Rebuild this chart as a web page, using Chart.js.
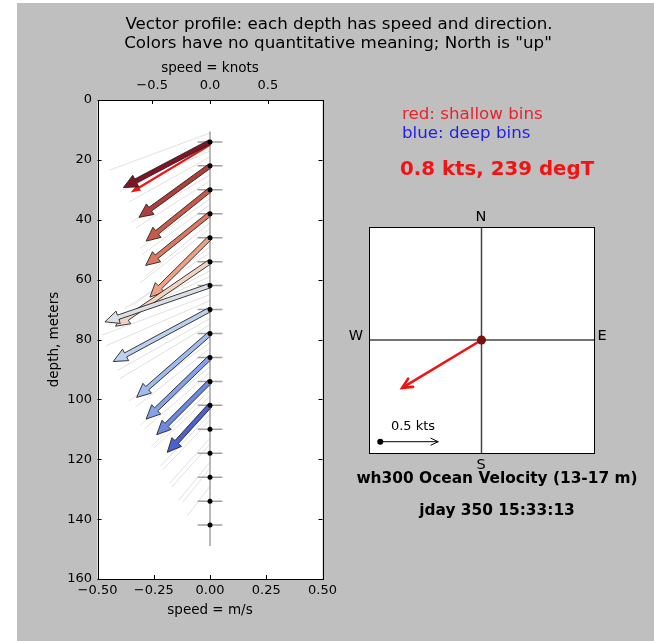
<!DOCTYPE html>
<html>
<head>
<meta charset="utf-8">
<title>wh300 vector profile</title>
<script src="https://cdn.jsdelivr.net/npm/chart.js@4.4.0/dist/chart.umd.min.js"></script>
<style>
    body { margin: 0; background: #fff; font-family: "DejaVu Sans", sans-serif; }
    #page { position: absolute; left: 17px; top: 3px; width: 637px; height: 638px; background: #bfbfbf; }
    canvas { position: absolute; left: 0; top: 0; }
    .txt { position: absolute; white-space: nowrap; line-height: 1; color: #000; }
    .c { transform: translate(-50%, -50%); }
    .l { transform: translate(0, -50%); }
</style>
</head>
<body>
<div id="page"></div>
<canvas id="profile-chart" width="654" height="641"></canvas>
<canvas id="compass-chart" width="654" height="641"></canvas>

<div class="txt c" style="left:339px;top:23px;font-size:16.7px">Vector profile: each depth has speed and direction.</div>
<div class="txt c" style="left:338px;top:42px;font-size:16.7px">Colors have no quantitative meaning; North is "up"</div>

<div class="txt l" style="left:402px;top:113px;font-size:16.7px;color:#e8242a">red: shallow bins</div>
<div class="txt l" style="left:402px;top:132px;font-size:16.7px;color:#1f1fe6">blue: deep bins</div>
<div class="txt l" id="avg-label" style="left:400px;top:169px;font-size:19.8px;font-weight:bold;color:#f01414"></div>

<div class="txt c" style="left:481px;top:216px;font-size:14.5px">N</div>
<div class="txt c" style="left:481px;top:464px;font-size:14.5px">S</div>
<div class="txt c" style="left:356px;top:335px;font-size:14.5px">W</div>
<div class="txt c" style="left:602px;top:335px;font-size:14.5px">E</div>
<div class="txt c" style="left:413px;top:425px;font-size:13px">0.5 kts</div>

<div class="txt c" style="left:497px;top:479px;font-size:15.4px;font-weight:bold">wh300 Ocean Velocity (13-17 m)</div>
<div class="txt c" style="left:497px;top:511px;font-size:15.4px;font-weight:bold">jday 350 15:33:13</div>

<script>
// Bin depths (m) and velocity components (m/s, east / north)
const depths = [14, 22, 30, 38, 46, 54, 62, 70, 78, 86, 94, 102, 110, 118, 126, 134, 142];
const uVel = [-0.385, -0.316, -0.284, -0.286, -0.267, -0.420, -0.467, -0.430, -0.326, -0.284, -0.237, -0.190, null, null, null, null, null];
const vVel = [-0.203, -0.229, -0.228, -0.230, -0.264, -0.287, -0.161, -0.231, -0.284, -0.274, -0.237, -0.209, null, null, null, null, null];
const uErr = [0.055, 0.055, 0.055, 0.055, 0.055, 0.055, 0.055, 0.055, 0.055, 0.055, 0.055, 0.055, 0.055, 0.055, 0.055, 0.055, 0.055];
const arrowColors = ['#7d1526', '#ad3f3c', '#c85a4c', '#dc7862', '#eda185', '#f3d3c0',
                     '#dcdfe8', '#bcd0f0', '#9fbbef', '#84a2e7', '#6d88df', '#4a62cd'];

// Earlier profiles, drawn as faint lines
const histDepthsA = [11, 19, 27, 35, 43, 51, 59, 67, 75, 83, 91, 99, 107, 115, 123];
const histUA = [-0.445, -0.36, -0.33, -0.30, -0.31, -0.38, -0.44, -0.46, -0.40, -0.33, -0.29, -0.25, -0.21, -0.17, -0.12];
const histVA = [-0.165, -0.20, -0.21, -0.22, -0.24, -0.25, -0.20, -0.20, -0.24, -0.26, -0.25, -0.23, -0.22, -0.19, -0.15];
const histDepthsB = [17, 25, 33, 41, 49, 57, 65, 73, 81, 89, 97, 105, 113, 121, 129];
const histUB = [-0.40, -0.35, -0.31, -0.29, -0.34, -0.45, -0.48, -0.41, -0.36, -0.31, -0.26, -0.22, -0.18, -0.14, -0.10];
const histVB = [-0.18, -0.21, -0.22, -0.24, -0.26, -0.24, -0.18, -0.23, -0.26, -0.26, -0.25, -0.23, -0.20, -0.17, -0.13];

// Depth span of the profile stick
const stickDepths = [10.5, 149];

// Layer average (13-17 m)
const avgDepth = 15;
const avgSpeedKts = 0.8;
const avgDirDeg = 239;

// Axis ticks
const depthTicks = [0, 20, 40, 60, 80, 100, 120, 140, 160];
const mpsTicks = [-0.5, -0.25, 0, 0.25, 0.5];
const knotTicks = [-0.5, 0, 0.5];

// Compass scale bar
const scaleBarKts = 0.5;
const scaleBarStart = [-0.45, -0.45];

const KNOT = 0.514444;   // m/s per knot
const font = 'DejaVu Sans';

const avgU = avgSpeedKts * KNOT * Math.sin(avgDirDeg * Math.PI / 180);
const avgV = avgSpeedKts * KNOT * Math.cos(avgDirDeg * Math.PI / 180);
document.getElementById('avg-label').textContent = `${avgSpeedKts.toFixed(1)} kts, ${avgDirDeg} degT`;

function fmt(v, digits) {
    return (v < -1e-9 ? '\u2212' : '') + Math.abs(v).toFixed(digits);
}

function line(ctx, x0, y0, x1, y1) {
    ctx.beginPath();
    ctx.moveTo(x0, y0);
    ctx.lineTo(x1, y1);
    ctx.stroke();
}

// filled arrow with a triangular head, tip at (x1, y1)
function fancyArrow(ctx, x0, y0, x1, y1, o) {
    const dx = x1 - x0, dy = y1 - y0;
    const len = Math.hypot(dx, dy);
    const ux = dx / len, uy = dy / len;
    const px = -uy, py = ux;
    const hl = Math.min(o.headLength, len);
    const bx = x1 - ux * hl, by = y1 - uy * hl;
    const w = o.width / 2, hw = o.headWidth / 2;
    ctx.beginPath();
    ctx.moveTo(x0 + px * w, y0 + py * w);
    ctx.lineTo(bx + px * w, by + py * w);
    ctx.lineTo(bx + px * hw, by + py * hw);
    ctx.lineTo(x1, y1);
    ctx.lineTo(bx - px * hw, by - py * hw);
    ctx.lineTo(bx - px * w, by - py * w);
    ctx.lineTo(x0 - px * w, y0 - py * w);
    ctx.closePath();
    ctx.fillStyle = o.fill;
    ctx.fill();
    if (o.edge) {
        ctx.strokeStyle = o.edge;
        ctx.lineWidth = o.edgeWidth;
        ctx.lineJoin = 'miter';
        ctx.stroke();
    }
}

// line arrow with an open "->" head
function openArrow(ctx, x0, y0, x1, y1, color, lw, head) {
    const a = Math.atan2(y1 - y0, x1 - x0);
    ctx.strokeStyle = color;
    ctx.lineWidth = lw;
    ctx.lineCap = 'round';
    line(ctx, x0, y0, x1, y1);
    ctx.beginPath();
    ctx.moveTo(x1 - head * Math.cos(a - 0.45), y1 - head * Math.sin(a - 0.45));
    ctx.lineTo(x1, y1);
    ctx.lineTo(x1 - head * Math.cos(a + 0.45), y1 - head * Math.sin(a + 0.45));
    ctx.stroke();
    ctx.lineCap = 'butt';
}

// profile panel: north component uses the same pixel scale as east
const profilePlugin = {
    id: 'profileDecor',
    beforeDatasetsDraw(chart) {
        const { ctx, chartArea: a } = chart;
        const xs = chart.scales.x, ys = chart.scales.y;
        const x0 = xs.getPixelForValue(0);
        const tip = (d, u, v) => {
            const y0 = ys.getPixelForValue(d);
            return [x0, y0, xs.getPixelForValue(u), y0 - (xs.getPixelForValue(v) - x0)];
        };

        ctx.save();
        ctx.fillStyle = '#fff';
        ctx.fillRect(a.left, a.top, a.right - a.left, a.bottom - a.top);
        ctx.beginPath();
        ctx.rect(a.left, a.top, a.right - a.left, a.bottom - a.top);
        ctx.clip();

        // faint history lines
        ctx.strokeStyle = '#d9d9d9';
        ctx.lineWidth = 0.8;
        [[histDepthsA, histUA, histVA], [histDepthsB, histUB, histVB]].forEach(([ds, us, vs]) => {
            ds.forEach((d, i) => {
                const p = tip(d, us[i], vs[i]);
                line(ctx, p[0], p[1], p[2], p[3]);
            });
        });

        // stick and error bars
        ctx.strokeStyle = '#a0a0a0';
        ctx.lineWidth = 1.5;
        line(ctx, x0, ys.getPixelForValue(stickDepths[0]), x0, ys.getPixelForValue(stickDepths[1]));
        depths.forEach((d, i) => {
            const y = ys.getPixelForValue(d);
            line(ctx, xs.getPixelForValue(-uErr[i]), y, xs.getPixelForValue(uErr[i]), y);
        });

        // layer average arrow
        const pa = tip(avgDepth, avgU, avgV);
        fancyArrow(ctx, pa[0], pa[1], pa[2], pa[3], {
            width: 2.2, headWidth: 7, headLength: 10, fill: '#f01414'
        });

        // bin arrows, shallow first
        depths.forEach((d, i) => {
            if (uVel[i] === null) return;
            const p = tip(d, uVel[i], vVel[i]);
            fancyArrow(ctx, p[0], p[1], p[2], p[3], {
                width: 4.5, headWidth: 13, headLength: 14,
                fill: arrowColors[i], edge: '#262626', edgeWidth: 0.9
            });
        });
        ctx.restore();
    },
    afterDraw(chart) {
        const { ctx, chartArea: a } = chart;
        const xs = chart.scales.x, xk = chart.scales.xk, ys = chart.scales.y;
        const tl = 4;
        ctx.save();
        ctx.strokeStyle = '#000';
        ctx.lineWidth = 1;
        depthTicks.forEach(t => {
            const y = Math.round(ys.getPixelForValue(t)) + 0.5;
            line(ctx, a.left, y, a.left + tl, y);
            line(ctx, a.right, y, a.right - tl, y);
        });
        mpsTicks.forEach(t => {
            const x = Math.round(xs.getPixelForValue(t)) + 0.5;
            line(ctx, x, a.bottom, x, a.bottom - tl);
        });
        knotTicks.forEach(t => {
            const x = Math.round(xk.getPixelForValue(t)) + 0.5;
            line(ctx, x, a.top, x, a.top + tl);
        });
        ctx.strokeRect(Math.round(a.left) + 0.5, Math.round(a.top) + 0.5,
                       Math.round(a.right - a.left), Math.round(a.bottom - a.top));
        ctx.restore();
    }
};

const tickFont = { family: font, size: 13 };
const titleFont = { family: font, size: 13.5 };
const knotMax = 0.5 / KNOT;

new Chart(document.getElementById('profile-chart'), {
    type: 'scatter',
    data: {
        datasets: [{
            data: depths.map(d => ({ x: 0, y: d })),
            pointRadius: 2.5,
            pointBackgroundColor: '#000',
            pointBorderWidth: 0
        }]
    },
    options: {
        responsive: false,
        animation: false,
        layout: { padding: { left: 37.5, right: 331.5, top: 50, bottom: 7 } },
        plugins: { legend: { display: false }, tooltip: { enabled: false } },
        scales: {
            x: {
                type: 'linear', position: 'bottom', min: -0.5, max: 0.5,
                afterBuildTicks: s => { s.ticks = mpsTicks.map(v => ({ value: v })); },
                ticks: { padding: 3.5, color: '#000', font: tickFont, maxRotation: 0, autoSkip: false,
                         callback: v => fmt(v, 2) },
                grid: { display: false, drawTicks: false },
                border: { display: false },
                title: { display: true, text: 'speed = m/s', color: '#000', font: titleFont,
                         padding: { top: 0, bottom: 15 } },
                afterFit: s => { s.height = 55; }
            },
            xk: {
                type: 'linear', position: 'top', min: -knotMax, max: knotMax,
                afterBuildTicks: s => { s.ticks = knotTicks.map(v => ({ value: v })); },
                ticks: { padding: 6.5, color: '#000', font: tickFont, maxRotation: 0, autoSkip: false,
                         callback: v => fmt(v, 1) },
                grid: { display: false, drawTicks: false },
                border: { display: false },
                title: { display: true, text: 'speed = knots', color: '#000', font: titleFont,
                         padding: { top: 10, bottom: 0 } },
                afterFit: s => { s.height = 50; }
            },
            y: {
                type: 'linear', reverse: true, min: 0, max: 160,
                afterBuildTicks: s => { s.ticks = depthTicks.map(v => ({ value: v })); },
                ticks: { padding: 5.5, color: '#000', font: tickFont, autoSkip: false },
                grid: { display: false, drawTicks: false },
                border: { display: false },
                title: { display: true, text: 'depth, meters', color: '#000', font: titleFont,
                         padding: { top: 9, bottom: 0 } },
                afterFit: s => { s.width = 60; }
            }
        }
    },
    plugins: [profilePlugin]
});

// compass panel
const compassPlugin = {
    id: 'compassDecor',
    beforeDatasetsDraw(chart) {
        const { ctx, chartArea: a } = chart;
        const xs = chart.scales.x, ys = chart.scales.y;
        const cx = xs.getPixelForValue(0), cy = ys.getPixelForValue(0);
        ctx.save();
        ctx.fillStyle = '#fff';
        ctx.fillRect(a.left, a.top, a.right - a.left, a.bottom - a.top);
        ctx.strokeStyle = '#444';
        ctx.lineWidth = 1.5;
        line(ctx, cx, a.top, cx, a.bottom);
        line(ctx, a.left, cy, a.right, cy);
        ctx.strokeStyle = '#000';
        ctx.lineWidth = 1;
        ctx.strokeRect(Math.round(a.left) + 0.5, Math.round(a.top) + 0.5,
                       Math.round(a.right - a.left), Math.round(a.bottom - a.top));

        openArrow(ctx, cx, cy, xs.getPixelForValue(avgU), ys.getPixelForValue(avgV), '#f01414', 2.6, 11);

        const sx = xs.getPixelForValue(scaleBarStart[0]);
        const sy = ys.getPixelForValue(scaleBarStart[1]);
        const ex = xs.getPixelForValue(scaleBarStart[0] + scaleBarKts * KNOT);
        openArrow(ctx, sx, sy, ex, sy, '#000', 1, 8);
        ctx.restore();
    }
};

new Chart(document.getElementById('compass-chart'), {
    type: 'scatter',
    data: {
        datasets: [
            { data: [{ x: 0, y: 0 }], pointRadius: 4.5, pointBackgroundColor: '#7a1010', pointBorderWidth: 0 },
            { data: [{ x: scaleBarStart[0], y: scaleBarStart[1] }], pointRadius: 3,
              pointBackgroundColor: '#000', pointBorderWidth: 0 }
        ]
    },
    options: {
        responsive: false,
        animation: false,
        layout: { padding: { left: 369, right: 60, top: 227, bottom: 188 } },
        plugins: { legend: { display: false }, tooltip: { enabled: false } },
        scales: {
            x: { type: 'linear', min: -0.5, max: 0.5, display: false },
            y: { type: 'linear', min: -0.5, max: 0.5, display: false }
        }
    },
    plugins: [compassPlugin]
});
</script>
</body>
</html>
